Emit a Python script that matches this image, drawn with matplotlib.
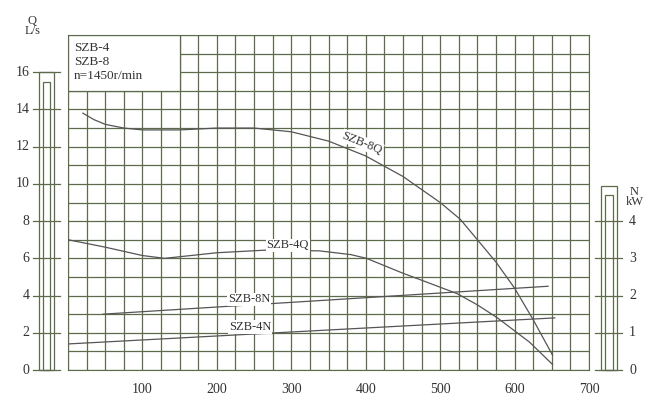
import matplotlib
matplotlib.use("Agg")
import matplotlib.pyplot as plt
from matplotlib.patches import Rectangle

q_ticks = [0, 2, 4, 6, 8, 10, 12, 14, 16]
n_ticks = [0, 1, 2, 3, 4]
x_ticks = [100, 200, 300, 400, 500, 600, 700]

x8q = [20, 35, 50, 75, 100, 150, 200, 250, 300, 350, 400, 450, 500, 527, 550, 575, 600, 625, 651]
y8q = [13.8, 13.45, 13.2, 13.0, 12.9, 12.9, 13.0, 13.0, 12.8, 12.3, 11.5, 10.4, 9.0, 8.1, 7.0, 5.8, 4.4, 2.7, 0.8]
x4q = [0, 50, 100, 130, 200, 270, 338, 380, 401, 450, 490, 523, 550, 577, 620, 651]
y4q = [7.0, 6.6, 6.15, 6.0, 6.3, 6.45, 6.4, 6.2, 6.0, 5.2, 4.6, 4.1, 3.5, 2.8, 1.5, 0.3]
x8n = [47, 645]
y8n_kw = [1.5, 2.25]
x4n = [0, 654]
y4n_kw = [0.7, 1.4]

grid_c = "#5d6b4c"
line_c = "#555555"
txt_c = "#333333"
plt.rcParams['font.family'] = ['Liberation Serif', 'DejaVu Serif']

fig = plt.figure(figsize=(6.52, 4.19), dpi=100)
ax = fig.add_axes([68/652, 49/419, 521/652, 335/419])
ax.set_xlim(0, 700)
ax.set_ylim(0, 18)
for x in range(0, 701, 25):
    ax.axvline(x, color=grid_c, lw=0.9, zorder=1)
for y in range(0, 19):
    ax.axhline(y, color=grid_c, lw=0.9, zorder=1)
for s in ax.spines.values():
    s.set_color(grid_c)
ax.set_xticks([]); ax.set_yticks([])
for x in x_ticks:
    ax.text(x, -0.7, str(x), ha='center', va='top', fontsize=10, color=txt_c)

ax.add_patch(Rectangle((0, 15), 150, 3, facecolor='white', edgecolor=grid_c, lw=0.9, zorder=2))
ax.text(8, 17.6, "SZB-4\nSZB-8\nn=1450r/min", va='top', ha='left', fontsize=9.5, color=txt_c, linespacing=1.2, zorder=3)

ax.plot(x8q, y8q, color=line_c, lw=0.9, zorder=4)
ax.plot(x4q, y4q, color=line_c, lw=0.9, zorder=4)
ax.plot(x8n, [v*2 for v in y8n_kw], color=line_c, lw=0.9, zorder=4)
ax.plot(x4n, [v*2 for v in y4n_kw], color=line_c, lw=0.9, zorder=4)

bb = dict(facecolor='white', edgecolor='none', pad=0.5)
ax.text(395, 12.2, "SZB-8Q", rotation=-22, fontsize=9, color=txt_c, ha='center', va='center', bbox=bb, zorder=5)
ax.text(295, 6.7, "SZB-4Q", fontsize=9, color=txt_c, ha='center', va='center', bbox=bb, zorder=5)
ax.text(243, 3.8, "SZB-8N", fontsize=9, color=txt_c, ha='center', va='center', bbox=bb, zorder=5)
ax.text(245, 2.3, "SZB-4N", fontsize=9, color=txt_c, ha='center', va='center', bbox=bb, zorder=5)

def bar(x0, x1, top, ticks, labvals, labx, ha):
    ax.add_patch(Rectangle((x0, 0), x1-x0, top, fill=False, edgecolor=grid_c, lw=0.9, clip_on=False))
    ax.add_patch(Rectangle((x0+5, 0), x1-x0-10, top-0.5, fill=False, edgecolor=grid_c, lw=0.9, clip_on=False))
    for t, lab in zip(ticks, labvals):
        ax.plot([x0-8, x1+8], [t, t], color=grid_c, lw=0.9, clip_on=False)
        ax.text(labx, t, lab, ha=ha, va='center', fontsize=10, color=txt_c, clip_on=False)

bar(-39, -19, 16, q_ticks, [str(v) for v in q_ticks], -52, 'right')
ax.text(-48, 18.5, "Q\nL/s", ha='center', va='center', fontsize=9, color=txt_c, linespacing=0.8)
bar(716, 737, 9.9, [v*2 for v in n_ticks], [str(v) for v in n_ticks], 754, 'left')
ax.text(761, 9.3, "N\nkW", ha='center', va='center', fontsize=9, color=txt_c, linespacing=0.8)

fig.savefig("out.png", dpi=100)
